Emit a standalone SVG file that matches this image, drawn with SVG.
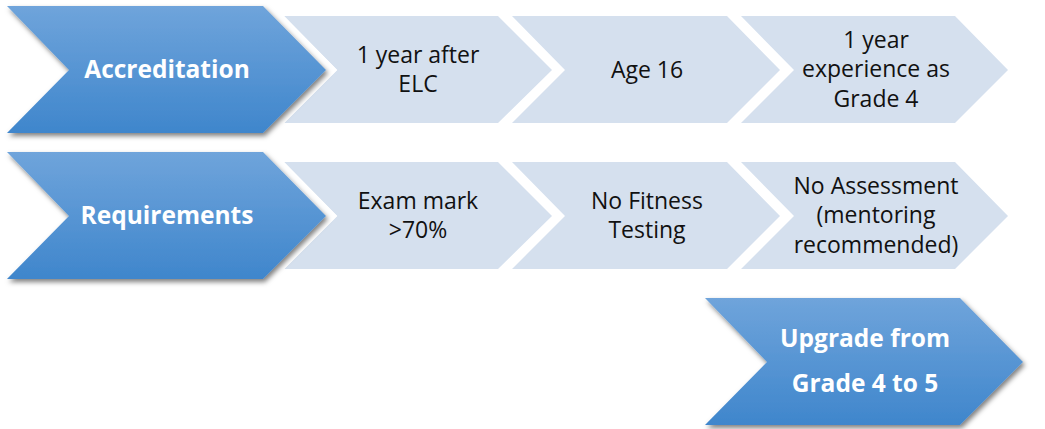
<svg xmlns="http://www.w3.org/2000/svg" width="1045" height="429" viewBox="0 0 1045 429">
<defs>
<linearGradient id="blueGrad" x1="0" y1="0" x2="0" y2="1">
<stop offset="0" stop-color="#6fa4db"/>
<stop offset="1" stop-color="#3f86cc"/>
</linearGradient>
<filter id="shadow" x="-10%" y="-10%" width="125%" height="130%">
<feDropShadow dx="2" dy="3" stdDeviation="2.5" flood-color="#000" flood-opacity="0.5"/>
</filter>
<style>
.light{fill:#d5e0ee}
.blue{fill:url(#blueGrad);filter:url(#shadow)}
.halo{fill:#fff;stroke:#fff;stroke-width:16;stroke-linejoin:miter}
.lt{font-family:"Open Sans","Liberation Sans",sans-serif;font-size:23px;fill:#111;text-anchor:middle}
.bt{font-family:"Open Sans","Liberation Sans",sans-serif;font-size:24.5px;font-weight:bold;fill:#fff;text-anchor:middle}
</style>
</defs>
<rect width="1045" height="429" fill="#fff"/>
<g id="connectors"></g>

<g id="row1-step1"><polygon class="light" points="284,16 498,16 552,70 498,123 284,123 337,70"/><text class="lt" x="418" y="63">1 year after</text><text class="lt" x="418" y="92">ELC</text></g>
<g id="row1-step2"><polygon class="light" points="512,16 727,16 780,70 727,123 512,123 565,70"/><text class="lt" x="647" y="78">Age 16</text></g>
<g id="row1-step3"><polygon class="light" points="741,16 955,16 1008,70 955,123 741,123 794,70"/><text class="lt" x="876" y="48">1 year</text><text class="lt" x="876" y="77">experience as</text><text class="lt" x="876" y="107">Grade 4</text></g>

<g id="row2-step1"><polygon class="light" points="284,162 498,162 552,216 498,269 284,269 337,216"/><text class="lt" x="418" y="209">Exam mark</text><text class="lt" x="418" y="238">&gt;70%</text></g>
<g id="row2-step2"><polygon class="light" points="512,162 727,162 780,216 727,269 512,269 565,216"/><text class="lt" x="647" y="209">No Fitness</text><text class="lt" x="647" y="238">Testing</text></g>
<g id="row2-step3"><polygon class="light" points="741,162 955,162 1008,216 955,269 741,269 794,216"/><text class="lt" x="876" y="194">No Assessment</text><text class="lt" x="876" y="223">(mentoring</text><text class="lt" x="876" y="253">recommended)</text></g>

<g id="accreditation"><polygon class="halo" points="7,6 263,6 326,70 263,133 7,133 69,70"/><polygon class="blue" points="7,6 263,6 326,70 263,133 7,133 69,70"/><text class="bt" x="167" y="78">Accreditation</text></g>
<g id="requirements"><polygon class="halo" points="7,152 263,152 326,216 263,279 7,279 69,216"/><polygon class="blue" points="7,152 263,152 326,216 263,279 7,279 69,216"/><text class="bt" x="167" y="224">Requirements</text></g>
<g id="upgrade"><polygon class="blue" points="705,298 960,298 1023,362 960,425 705,425 767,362"/><text class="bt" x="865" y="347">Upgrade from</text><text class="bt" x="865" y="392">Grade 4 to 5</text></g>
</svg>
